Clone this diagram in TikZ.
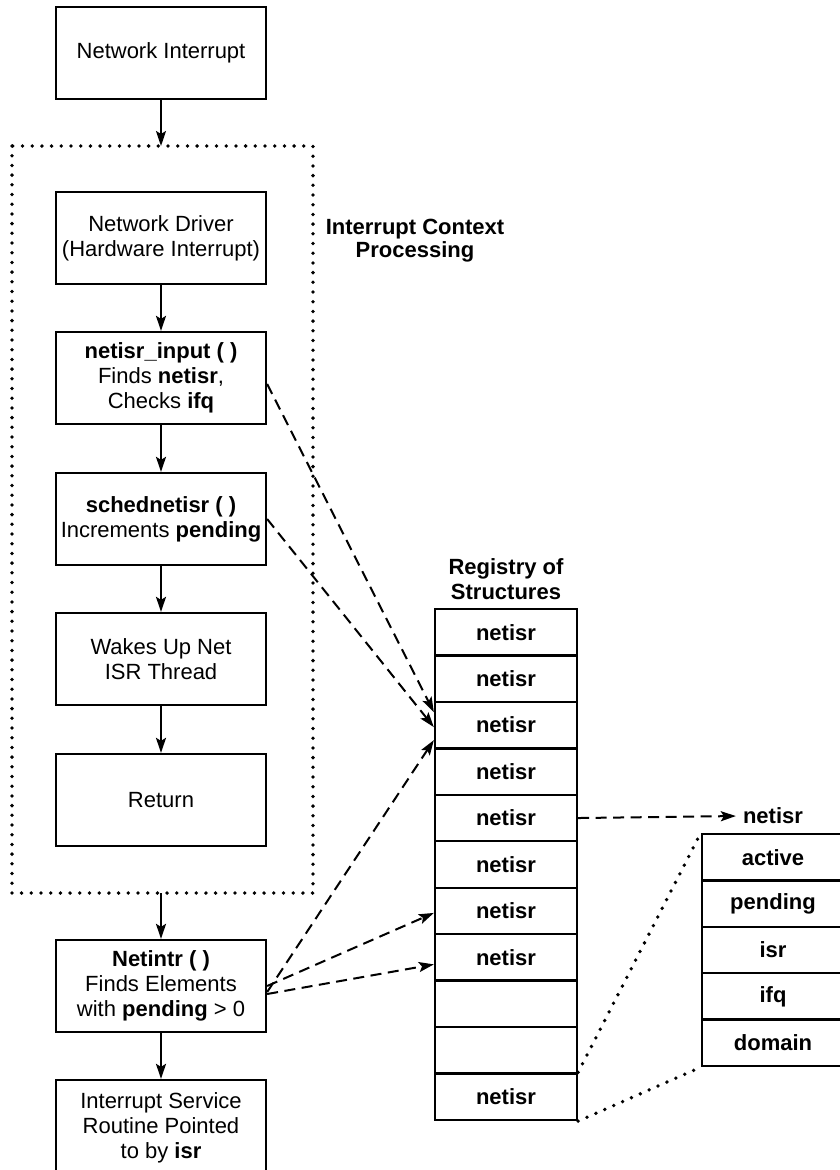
\documentclass[tikz,border=0pt]{standalone}
\usepackage{fontspec}
\setmainfont{Liberation Sans}
\usetikzlibrary{arrows.meta,calc}

\begin{document}
\begin{tikzpicture}[x=1pt,y=1pt,
  every node/.style={font=\fontsize{22}{25}\selectfont},
  flowbox/.style={draw, line width=2.3pt, minimum width=210pt, minimum height=92pt,
    align=center, inner sep=0pt},
  cell/.style={draw, line width=2.3pt, minimum width=142pt, minimum height=46.45pt,
    inner sep=0pt, font=\fontsize{22}{25}\selectfont\bfseries},
  heading/.style={align=center, inner sep=0pt, font=\fontsize{22}{23}\selectfont\bfseries},
  flow/.style={line width=2pt, -{Stealth[length=15pt,width=10pt,inset=3pt]}},
  ptr/.style={line width=2pt, dash pattern=on 11pt off 6.5pt,
    -{Stealth[length=15pt,width=10pt,inset=3pt]}},
  dots/.style={line width=3.8pt, line cap=round, dash pattern=on 0pt off 9.7pt}]

\useasboundingbox (0,0) rectangle (840,-1170);

% main flow
\node[flowbox] (irq)    at (161,-53)  {Network Interrupt};
\node[flowbox] (drv)    at (161,-238) {Network Driver\\(Hardware Interrupt)};
\node[flowbox] (input)  at (161,-378) {\textbf{netisr\_input ( )}\\Finds \textbf{netisr},\\Checks \textbf{ifq}};
\node[flowbox] (sched)  at (161,-519) {\textbf{schednetisr ( )}\\Increments \textbf{pending}};
\node[flowbox] (wake)   at (161,-659) {Wakes Up Net\\ISR Thread};
\node[flowbox] (ret)    at (161,-800) {Return};
\node[flowbox] (intr)   at (161,-986) {\textbf{Netintr ( )}\\Finds Elements\\with \textbf{pending} > 0};
\node[flowbox, minimum height=96pt] (isr) at (161,-1128) {Interrupt Service\\Routine Pointed\\to by \textbf{isr}};

% interrupt context frame
\draw[dots] (12,-146) rectangle (313,-893);
\coordinate (ctxtop) at (161,-146);
\coordinate (ctxbot) at (161,-893);
\node[heading] (ctxlabel) at (415,-241) {Interrupt Context\\Processing};

\draw[flow] (irq.south) -- (ctxtop);
\draw[flow] (drv.south) -- (input.north);
\draw[flow] (input.south) -- (sched.north);
\draw[flow] (sched.south) -- (wake.north);
\draw[flow] (wake.south) -- (ret.north);
\draw[flow] (ctxbot) -- (intr.north);
\draw[flow] (intr.south) -- (isr.north);

% registry of structures
\node[heading, font=\fontsize{22}{25}\selectfont\bfseries] (reglabel) at (506,-579) {Registry of\\Structures};
\foreach \k/\t in {1/netisr,2/netisr,3/netisr,4/netisr,5/netisr,6/netisr,7/netisr,8/netisr,9/,10/,11/netisr}
  \node[cell] (r\k) at (506,{-609-(\k-0.5)*46.45}) {\t};

% netisr structure
\node[font=\fontsize{22}{25}\selectfont\bfseries, inner sep=4pt] (stitle) at (773,-816) {netisr};
\foreach \k/\t in {1/active,2/pending,3/isr,4/ifq,5/domain}
  \node[cell] (s\k) at (773,{-834-(\k-0.5)*46.4}) {\t};

\draw[ptr, shorten >=3pt] (r5.east) -- (stitle.west);
\draw[dots] (r11.north east) -- (s1.north west);
\draw[dots] (r11.south east) -- (s5.south west);

% pointers into the registry
\draw[ptr] ($(input.east)+(0,-6)$) -- ($(r3.west)+(0,13)$);
\draw[ptr] (sched.east) -- ($(r3.west)+(0,-2)$);
\draw[ptr] ($(intr.east)+(0,-6)$) -- ($(r3.west)+(0,-15)$);
\draw[ptr] ($(intr.east)+(0,0)$) -- ($(r7.west)+(0,-2)$);
\draw[ptr] ($(intr.east)+(0,-8)$) -- ($(r8.west)+(0,-7)$);
\end{tikzpicture}
\end{document}
